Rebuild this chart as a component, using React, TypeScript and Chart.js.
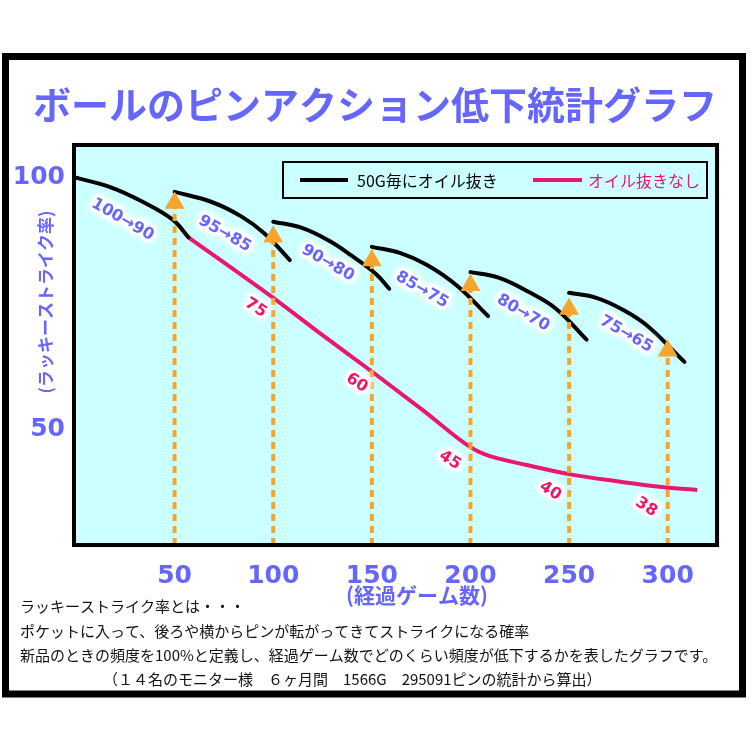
import React, { useEffect, useRef } from 'react';
import { Chart, registerables } from 'chart.js';

Chart.register(...registerables);

// ---------- data ----------
const TITLE = 'ボールのピンアクション低下統計グラフ';
const X_TITLE = '(経過ゲーム数)';
const Y_TITLE = '(ラッキーストライク率)';
const X_TICKS = [50, 100, 150, 200, 250, 300];
const Y_TICKS = [50, 100];

const LEGEND_OIL = '50G毎にオイル抜き';
const LEGEND_NO_OIL = 'オイル抜きなし';

// black arcs: oil removed every 50 games  [games, rate]
const arc1 = [[0, 100], [17, 98.2], [34, 95.2], [49, 91.7], [57, 88.2]];
const arc2 = [[50, 97.2], [68.8, 95.2], [84, 92.3], [95.7, 88.9], [108.4, 83.7]];
const arc3 = [[100, 91.3], [114.2, 90.1], [127.9, 87.6], [139.6, 84.6], [152.2, 80.9], [158.8, 78.0]];
const arc4 = [[150, 86.3], [164.2, 85.1], [178, 82.7], [193.2, 78.6], [208.9, 72.6]];
const arc5 = [[200, 81.3], [214.2, 80.2], [229.4, 77.4], [243.2, 74.1], [258.9, 67.9]];
const arc6 = [[250, 77.2], [263.8, 76.2], [277.5, 73.8], [289.2, 70.8], [308.5, 63.5]];
const oilArcs = [arc1, arc2, arc3, arc4, arc5, arc6];

// pink curve: no oil removal
const noOilGames = [57, 100, 125, 151, 176, 200, 207, 228, 252, 275, 297, 315];
const noOilRate = [88.2, 76.2, 68.8, 61.3, 53.9, 46.6, 45.2, 43.1, 41.1, 39.8, 38.7, 38.1];

// refill arrows
const refillGames = [50, 100, 150, 200, 250, 300];
const refillRate = [95, 88.3, 83.6, 78.7, 74, 65.7];
const AXIS_FLOOR = 27.2;

// annotations
const arcLabels = ['100→90', '95→85', '90→80', '85→75', '80→70', '75→65'];
const noOilLabels = ['75', '60', '45', '40', '38'];

const NOTES = [
  'ラッキーストライク率とは・・・',
  'ポケットに入って、後ろや横からピンが転がってきてストライクになる確率',
  '新品のときの頻度を100%と定義し、経過ゲーム数でどのくらい頻度が低下するかを表したグラフです。',
  '（１４名のモニター様　６ヶ月間　1566G　295091ピンの統計から算出）',
];

// ---------- layout / style ----------
const arcLabelAt = [[23.6, 91.7], [75.4, 88.9], [127.7, 83.1], [175.4, 77.8], [226.7, 73.2], [279, 69.0]];
const noOilLabelAt = [[91.1, 74.2], [142.4, 59.3], [189.6, 44.0], [240.4, 37.9], [289.1, 34.7]];

const BLUE = '#6666ff';
const PINK = '#e8176f';
const ORANGE = '#f5a52e';
const CYAN = '#ccffff';
const JP = '"Noto Sans CJK JP", "Noto Sans", sans-serif';
const NUM = '"DejaVu Sans", sans-serif';

function glowText(ctx: CanvasRenderingContext2D, text: string, x: number, y: number, angleDeg: number, color: string, font: string) {
  ctx.save();
  ctx.translate(x, y);
  ctx.rotate((angleDeg * Math.PI) / 180);
  ctx.font = font;
  ctx.textAlign = 'center';
  ctx.textBaseline = 'middle';
  ctx.shadowColor = 'rgba(255,255,255,1)';
  ctx.shadowBlur = 6;
  ctx.strokeStyle = 'white';
  ctx.lineJoin = 'round';
  ctx.lineWidth = 5;
  ctx.strokeText(text, 0, 0);
  ctx.strokeText(text, 0, 0);
  ctx.shadowBlur = 0;
  ctx.fillStyle = color;
  ctx.fillText(text, 0, 0);
  ctx.restore();
}

const decorPlugin = {
  id: 'decor',
  beforeDraw(chart: any) {
    const { ctx, chartArea: a } = chart;
    ctx.save();
    ctx.fillStyle = '#ffffff';
    ctx.fillRect(0, 0, chart.width, chart.height);
    // outer frame
    ctx.strokeStyle = '#000';
    ctx.lineWidth = 7;
    ctx.strokeRect(5.5, 56.5, 737, 637.5);
    // plot background
    ctx.fillStyle = 'rgba(0,0,0,0.06)';
    ctx.fillRect(a.left + 3, a.top + 3, a.right - a.left, a.bottom - a.top);
    ctx.fillStyle = CYAN;
    ctx.fillRect(a.left, a.top, a.right - a.left, a.bottom - a.top);
    ctx.restore();
  },
  afterDatasetsDraw(chart: any) {
    const { ctx, chartArea: a, scales } = chart;
    const xs = scales.x;
    const ys = scales.y;
    ctx.save();
    // plot border
    ctx.strokeStyle = '#000';
    ctx.lineWidth = 4;
    ctx.strokeRect(a.left - 2, a.top, a.right - a.left + 2, a.bottom - a.top);

    // annotations
    arcLabels.forEach((t, i) => {
      const [gx, gy] = arcLabelAt[i];
      glowText(ctx, t, xs.getPixelForValue(gx), ys.getPixelForValue(gy), 30, BLUE, `bold 16px ${NUM}`);
    });
    noOilLabels.forEach((t, i) => {
      const [gx, gy] = noOilLabelAt[i];
      glowText(ctx, t, xs.getPixelForValue(gx), ys.getPixelForValue(gy), 33, PINK, `bold 16px ${NUM}`);
    });

    // legend
    const lx = 283, ly = 162, lw = 424, lh = 36;
    ctx.fillStyle = CYAN;
    ctx.fillRect(lx, ly, lw, lh);
    ctx.strokeStyle = '#000';
    ctx.lineWidth = 2;
    ctx.strokeRect(lx, ly, lw, lh);
    const my = ly + lh / 2;
    const ds = chart.data.datasets;
    ctx.lineWidth = 4;
    ctx.strokeStyle = ds.find((d: any) => d.label === LEGEND_OIL).borderColor;
    ctx.beginPath(); ctx.moveTo(300, my); ctx.lineTo(348, my); ctx.stroke();
    ctx.strokeStyle = ds.find((d: any) => d.label === LEGEND_NO_OIL).borderColor;
    ctx.beginPath(); ctx.moveTo(533, my); ctx.lineTo(582, my); ctx.stroke();
    ctx.font = `16px ${JP}`;
    ctx.textAlign = 'left';
    ctx.textBaseline = 'middle';
    ctx.fillStyle = '#000';
    ctx.fillText(LEGEND_OIL, 357, my + 1);
    ctx.fillStyle = PINK;
    ctx.fillText(LEGEND_NO_OIL, 588, my + 1);
    ctx.restore();
  },
  afterDraw(chart: any) {
    const { ctx } = chart;
    ctx.save();
    // title
    ctx.fillStyle = BLUE;
    ctx.font = `bold 38px ${JP}`;
    ctx.textAlign = 'center';
    ctx.textBaseline = 'middle';
    ctx.fillText(TITLE, 375, 105);
    // axis titles
    ctx.font = `bold 21px ${JP}`;
    ctx.fillText(X_TITLE, 417, 595);
    ctx.save();
    ctx.translate(46, 302);
    ctx.rotate(-Math.PI / 2);
    ctx.font = `bold 17px ${JP}`;
    ctx.fillText(Y_TITLE, 0, 0);
    ctx.restore();
    // notes
    ctx.fillStyle = '#111';
    ctx.font = `15px ${JP}`;
    ctx.textAlign = 'left';
    const ny = [606, 631, 655, 679];
    const nx = [20, 20, 20, 103];
    NOTES.forEach((t, i) => ctx.fillText(t, nx[i], ny[i]));
    ctx.restore();
  },
};

export default function App() {
  const ref = useRef<HTMLCanvasElement>(null);
  useEffect(() => {
    if (!ref.current) return;
    const arrowSets = refillGames.map((g, i) => ({
      label: 'refill' + i,
      data: [{ x: g, y: AXIS_FLOOR }, { x: g, y: refillRate[i] }],
      borderColor: ORANGE,
      backgroundColor: ORANGE,
      borderWidth: 4,
      borderDash: [7, 5],
      pointStyle: 'triangle',
      pointRadius: [0, 11.5],
      pointBorderWidth: 0,
      pointBackgroundColor: ORANGE,
      tension: 0,
      order: 0,
      clip: false,
    }));
    const arcSets = oilArcs.map((arc, i) => ({
      label: i === 0 ? LEGEND_OIL : LEGEND_OIL + i,
      data: arc.map(([x, y]) => ({ x, y })),
      borderColor: '#000000',
      borderWidth: 4,
      pointRadius: 0,
      tension: 0.4,
      borderCapStyle: 'round',
      order: 1,
    }));
    const pinkSet = {
      label: LEGEND_NO_OIL,
      data: noOilGames.map((x, i) => ({ x, y: noOilRate[i] })),
      borderColor: PINK,
      borderWidth: 4,
      pointRadius: 0,
      cubicInterpolationMode: 'monotone',
      order: 2,
    };
    const chart = new Chart(ref.current, {
      type: 'line',
      data: { datasets: [...arrowSets, ...arcSets, pinkSet] as any },
      options: {
        animation: false,
        responsive: false,
        layout: { padding: { top: 145, right: 33, left: 0, bottom: 0 } },
        plugins: { legend: { display: false }, tooltip: { enabled: false } },
        scales: {
          x: {
            type: 'linear',
            min: 0,
            max: 325,
            grid: { display: false, drawTicks: false },
            border: { display: false },
            afterBuildTicks: (s: any) => { s.ticks = X_TICKS.map((v) => ({ value: v })); },
            afterFit: (s: any) => { s.height = 205; },
            ticks: {
              color: BLUE,
              font: { family: NUM, size: 25, weight: 'bold' },
              padding: 16,
              maxRotation: 0,
              autoSkip: false,
            },
          },
          y: {
            type: 'linear',
            min: AXIS_FLOOR,
            max: 106.5,
            grid: { display: false, drawTicks: false },
            border: { display: false },
            afterBuildTicks: (s: any) => { s.ticks = Y_TICKS.map((v) => ({ value: v })); },
            afterFit: (s: any) => { s.width = 76; },
            ticks: {
              color: BLUE,
              font: { family: NUM, size: 25, weight: 'bold' },
              padding: 11,
            },
          },
        },
      } as any,
      plugins: [decorPlugin],
    });
    return () => chart.destroy();
  }, []);
  return (
    <div style={{ position: 'absolute', left: 0, top: 0, width: 750, height: 750 }}>
      <canvas ref={ref} width={750} height={750} style={{ display: 'block' }} />
    </div>
  );
}
